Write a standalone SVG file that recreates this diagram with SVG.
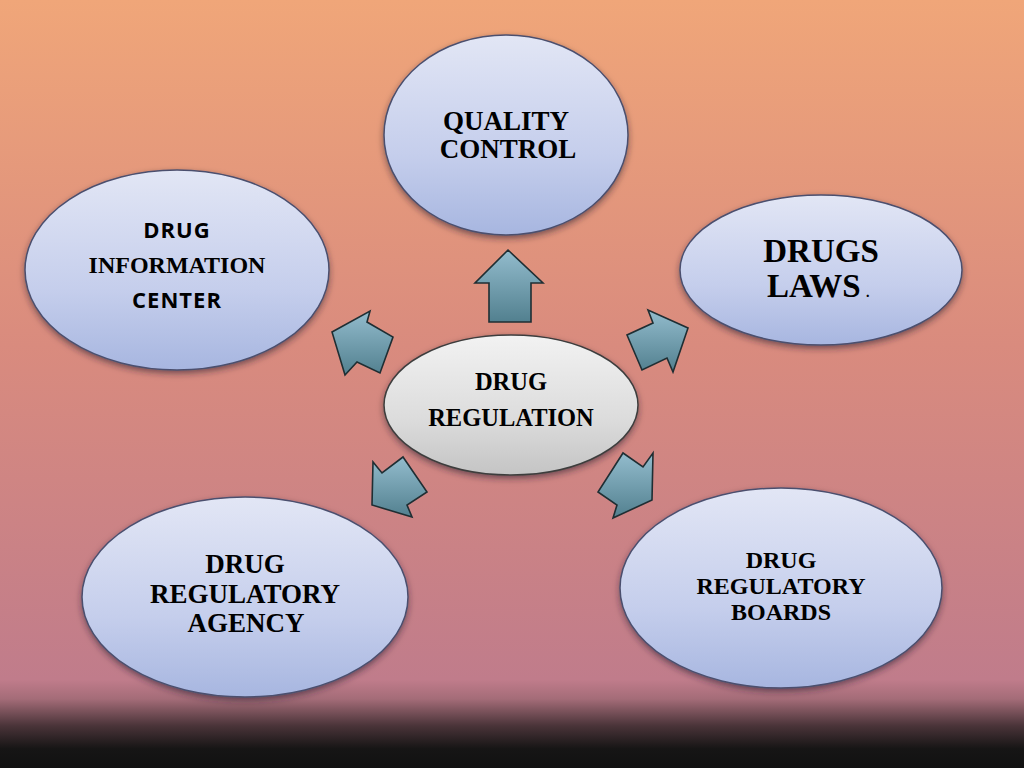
<svg xmlns="http://www.w3.org/2000/svg" width="1024" height="768" viewBox="0 0 1024 768">
  <defs>
    <linearGradient id="bg" x1="0" y1="0" x2="0" y2="1">
      <stop offset="0" stop-color="#F0A679"/>
      <stop offset="0.45" stop-color="#D98B7E"/>
      <stop offset="0.885" stop-color="#C07C8B"/>
      <stop offset="0.91" stop-color="#A46C78"/>
      <stop offset="0.945" stop-color="#4A3439"/>
      <stop offset="0.975" stop-color="#161515"/>
      <stop offset="1" stop-color="#111111"/>
    </linearGradient>
    <linearGradient id="blue" x1="0" y1="0" x2="0" y2="1">
      <stop offset="0" stop-color="#E2E6F5"/>
      <stop offset="0.6" stop-color="#C5CEEC"/>
      <stop offset="1" stop-color="#A7B6E0"/>
    </linearGradient>
    <linearGradient id="grey" x1="0" y1="0" x2="0" y2="1">
      <stop offset="0" stop-color="#F2F2F2"/>
      <stop offset="0.6" stop-color="#DCDCDC"/>
      <stop offset="1" stop-color="#C4C4C4"/>
    </linearGradient>
    <linearGradient id="arrow" x1="0" y1="0" x2="0" y2="1">
      <stop offset="0" stop-color="#93BCCD"/>
      <stop offset="1" stop-color="#52808F"/>
    </linearGradient>
    <filter id="shadow" x="-10%" y="-10%" width="120%" height="130%">
      <feDropShadow dx="0" dy="3" stdDeviation="3" flood-color="#2a2030" flood-opacity="0.55"/>
    </filter>
    <style>
      .node { fill: url(#blue); stroke: #4B4F6E; stroke-width: 1.5; filter: url(#shadow); }
      .center { fill: url(#grey); stroke: #3E3E3E; stroke-width: 1.5; filter: url(#shadow); }
      .arr { fill: url(#arrow); stroke: #1F2E33; stroke-width: 1.6; stroke-linejoin: miter; }
      .serif { font-family: "Liberation Serif", "Times New Roman", serif; font-weight: bold; fill: #000; text-anchor: middle; }
      .sans { font-family: "Open Sans", "Noto Sans", "DejaVu Sans", sans-serif; font-weight: bold; fill: #000; text-anchor: middle; }
      .start { text-anchor: start; }
    </style>
  </defs>

  <rect x="0" y="0" width="1024" height="768" fill="url(#bg)"/>

  <g id="connectors">
    <polygon class="arr" points="508,250 543,283 531,283 531,322 489,322 489,283 475,283"/>
    <polygon class="arr" points="332,332 370,311 367,322 393,337 380,373 357,362 345,375"/>
    <polygon class="arr" points="688,328 673,372 667,358 642,370 627,335 653,323 648,310"/>
    <polygon class="arr" points="372,505 373,462 382,473 403,457 427,492 407,505 412,517"/>
    <polygon class="arr" points="652,500 613,518 617,505 598,492 623,453 643,467 653,453"/>
  </g>

  <g id="quality-control">
    <ellipse class="node" cx="506" cy="135" rx="122" ry="100"/>
    <text class="serif" font-size="27" x="506" y="130">QUALITY</text>
    <text class="serif" font-size="27" x="508" y="158">CONTROL</text>
  </g>

  <g id="drug-information-center">
    <ellipse class="node" cx="177" cy="270" rx="152" ry="100"/>
    <text class="sans" font-size="22" letter-spacing="1" x="177" y="238">DRUG</text>
    <text class="serif" font-size="24" x="177" y="273">INFORMATION</text>
    <text class="sans" font-size="22" letter-spacing="1" x="177" y="308">CENTER</text>
  </g>

  <g id="drugs-laws">
    <ellipse class="node" cx="821" cy="270" rx="141" ry="75"/>
    <text class="serif" font-size="33" x="821" y="262">DRUGS</text>
    <text class="serif start" font-size="33" x="767" y="297">LAWS</text>
    <text class="serif start" font-size="14" x="866" y="297" font-weight="normal">.</text>
  </g>

  <g id="drug-regulation">
    <ellipse class="center" cx="511" cy="405" rx="127" ry="70"/>
    <text class="serif" font-size="24.5" x="511" y="390">DRUG</text>
    <text class="serif" font-size="24.5" x="511" y="426">REGULATION</text>
  </g>

  <g id="drug-regulatory-agency">
    <ellipse class="node" cx="245" cy="597" rx="163" ry="100"/>
    <text class="serif" font-size="27" x="245" y="573">DRUG</text>
    <text class="serif" font-size="27" x="245" y="603">REGULATORY</text>
    <text class="serif" font-size="27" x="246" y="632">AGENCY</text>
  </g>

  <g id="drug-regulatory-boards">
    <ellipse class="node" cx="781" cy="588" rx="161" ry="100"/>
    <text class="serif" font-size="24" x="781" y="568">DRUG</text>
    <text class="serif" font-size="24" x="781" y="594">REGULATORY</text>
    <text class="serif" font-size="24" x="781" y="620">BOARDS</text>
  </g>
</svg>
